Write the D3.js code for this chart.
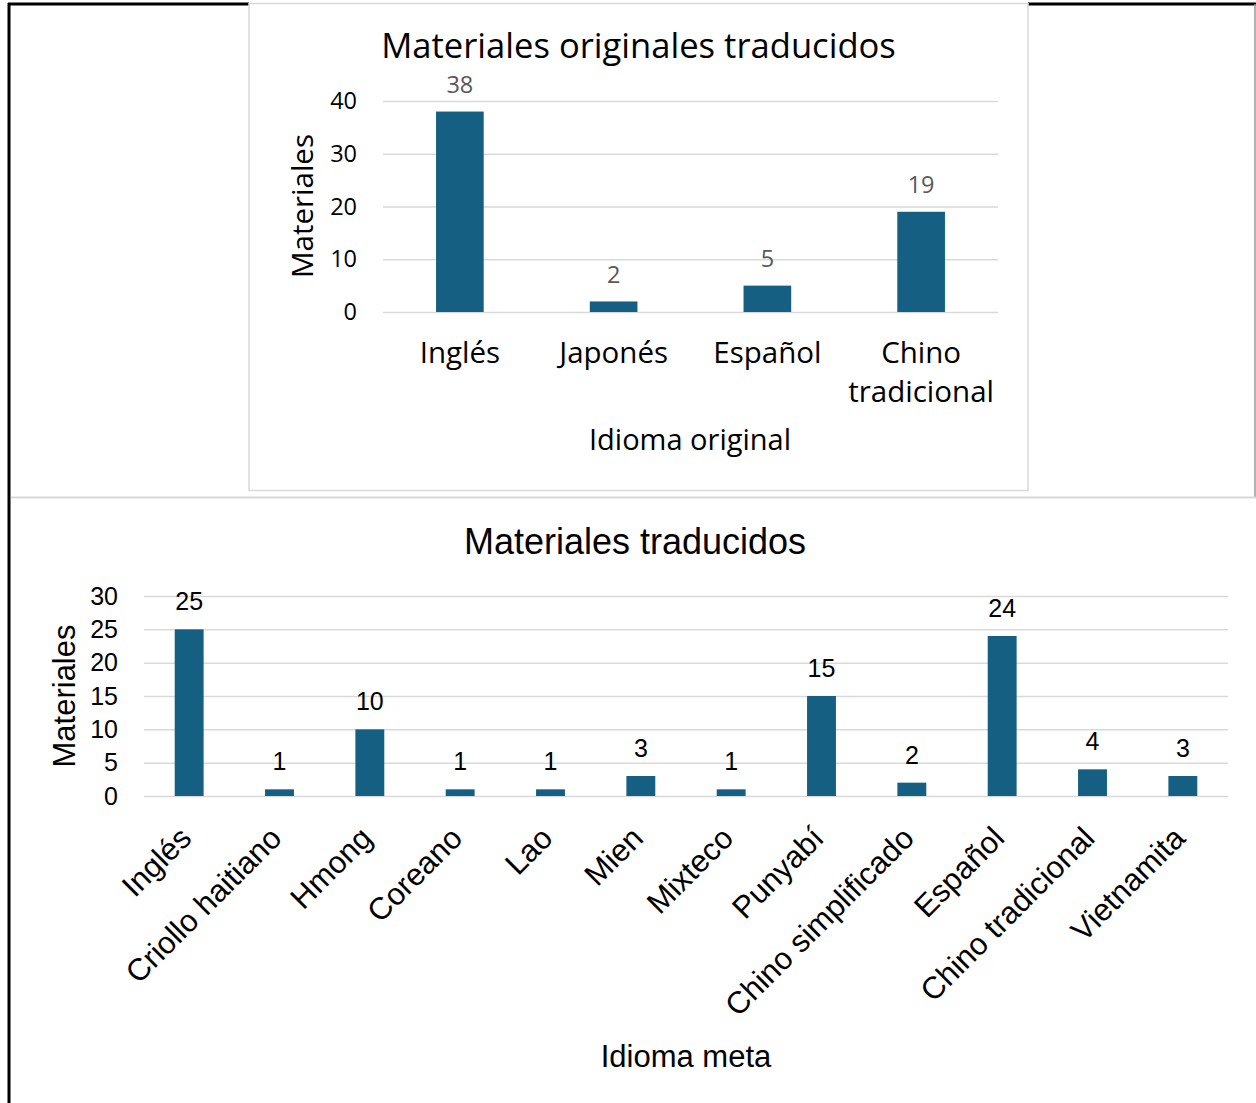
<!DOCTYPE html>
<html><head><meta charset="utf-8">
<script src="https://cdn.jsdelivr.net/npm/d3@7"></script>
<style>body{margin:0;background:#fff}svg{display:block}</style>
</head><body><svg id="c" width="1256" height="1103"></svg>
<script>
// Chart 1 data
const origCategories = ["Inglés", "Japonés", "Español", "Chino tradicional"];
const origValues = [38, 2, 5, 19];
const origTicks = [0, 10, 20, 30, 40];
// Chart 2 data
const metaCategories = ["Inglés", "Criollo haitiano", "Hmong", "Coreano", "Lao", "Mien", "Mixteco", "Punyabí", "Chino simplificado", "Español", "Chino tradicional", "Vietnamita"];
const metaValues = [25, 1, 10, 1, 1, 3, 1, 15, 2, 24, 4, 3];
const metaTicks = [0, 5, 10, 15, 20, 25, 30];

const BAR = "#156082", GRID = "#d9d9d9";
const svg = d3.select("#c");

// frame
svg.append("line").attr("x1",8).attr("x2",249).attr("y1",4).attr("y2",4).attr("stroke","#000").attr("stroke-width",3);
svg.append("line").attr("x1",1028).attr("x2",1256).attr("y1",4).attr("y2",4).attr("stroke","#000").attr("stroke-width",3);
svg.append("line").attr("x1",9).attr("x2",9).attr("y1",3).attr("y2",1103).attr("stroke","#000").attr("stroke-width",3);
svg.append("line").attr("x1",1255).attr("x2",1255).attr("y1",4).attr("y2",498).attr("stroke","#999").attr("stroke-width",1.5);
svg.append("line").attr("x1",11).attr("x2",1256).attr("y1",497.5).attr("y2",497.5).attr("stroke",GRID).attr("stroke-width",2);
svg.append("rect").attr("x",249).attr("y",3.5).attr("width",779).attr("height",487).attr("fill","#fff").attr("stroke",GRID).attr("stroke-width",1.5);

// ===== Top chart =====
{
  const F = "'Open Sans', sans-serif";
  const g = svg.append("g").attr("font-family", F);
  const x = d3.scaleBand().domain(origCategories).range([383, 998]).paddingInner(0.69).paddingOuter(0.345);
  const y = d3.scaleLinear().domain([0, 40]).range([312, 101]);
  const ya = g.append("g").attr("transform","translate(383,0)")
    .call(d3.axisLeft(y).tickValues(origTicks).tickSize(-615).tickPadding(26));
  ya.select(".domain").remove();
  ya.selectAll("line").attr("stroke", GRID).attr("stroke-width",1.5);
  ya.selectAll("text").attr("font-size",23.5).attr("fill","#000").attr("font-family",F);
  g.selectAll(".bar").data(origValues).enter().append("rect")
    .attr("x",(d,i)=>x(origCategories[i])).attr("width",x.bandwidth())
    .attr("y",d=>y(d)).attr("height",d=>y(0)-y(d)).attr("fill",BAR);
  g.selectAll(".lbl").data(origValues).enter().append("text")
    .attr("x",(d,i)=>x(origCategories[i])+x.bandwidth()/2).attr("y",d=>y(d)-18.5)
    .attr("text-anchor","middle").attr("font-size",23.5).attr("fill","#595959").text(d=>d);
  origCategories.forEach(c=>{
    const words = c.split(" ");
    const cx = x(c)+x.bandwidth()/2;
    words.forEach((w,j)=>{
      g.append("text").attr("x",cx).attr("y",363+j*39).attr("text-anchor","middle")
        .attr("font-size",29.5).attr("fill","#000").text(w);
    });
  });
  g.append("text").attr("x",638.5).attr("y",58).attr("text-anchor","middle").attr("font-size",34.6).attr("fill","#000").text("Materiales originales traducidos");
  g.append("text").attr("x",690).attr("y",450).attr("text-anchor","middle").attr("font-size",29).attr("fill","#000").text("Idioma original");
  g.append("text").attr("transform","translate(312.5,206) rotate(-90)").attr("text-anchor","middle").attr("font-size",29.5).attr("fill","#000").text("Materiales");
}

// ===== Bottom chart =====
{
  const F = "'Liberation Sans', Arial, sans-serif";
  const g = svg.append("g").attr("font-family", F);
  const x = d3.scaleBand().domain(metaCategories).range([144, 1228]).paddingInner(0.68).paddingOuter(0.34);
  const y = d3.scaleLinear().domain([0, 30]).range([796, 596]);
  const ya = g.append("g").attr("transform","translate(144,0)")
    .call(d3.axisLeft(y).tickValues(metaTicks).tickSize(-1084).tickPadding(26));
  ya.select(".domain").remove();
  ya.selectAll("line").attr("stroke", GRID).attr("stroke-width",1.5);
  ya.selectAll("text").attr("font-size",25).attr("fill","#000").attr("font-family",F);
  g.selectAll(".bar").data(metaValues).enter().append("rect")
    .attr("x",(d,i)=>x(metaCategories[i])).attr("width",x.bandwidth())
    .attr("y",d=>y(d)).attr("height",d=>y(0)-y(d)).attr("fill",BAR);
  g.selectAll(".lbl").data(metaValues).enter().append("text")
    .attr("x",(d,i)=>x(metaCategories[i])+x.bandwidth()/2).attr("y",d=>y(d)-19)
    .attr("text-anchor","middle").attr("font-size",25).attr("fill","#000").text(d=>d);
  metaCategories.forEach(c=>{
    const cx = x(c)+x.bandwidth()/2;
    g.append("text").attr("transform",`translate(${cx+4},${840}) rotate(-45)`)
      .attr("text-anchor","end").attr("font-size",31).attr("fill","#000").text(c);
  });
  g.append("text").attr("x",635).attr("y",554).attr("text-anchor","middle").attr("font-size",36).attr("fill","#000").text("Materiales traducidos");
  g.append("text").attr("x",686).attr("y",1067).attr("text-anchor","middle").attr("font-size",31).attr("fill","#000").text("Idioma meta");
  g.append("text").attr("transform","translate(75,696) rotate(-90)").attr("text-anchor","middle").attr("font-size",31).attr("fill","#000").text("Materiales");
}
</script></body></html>
